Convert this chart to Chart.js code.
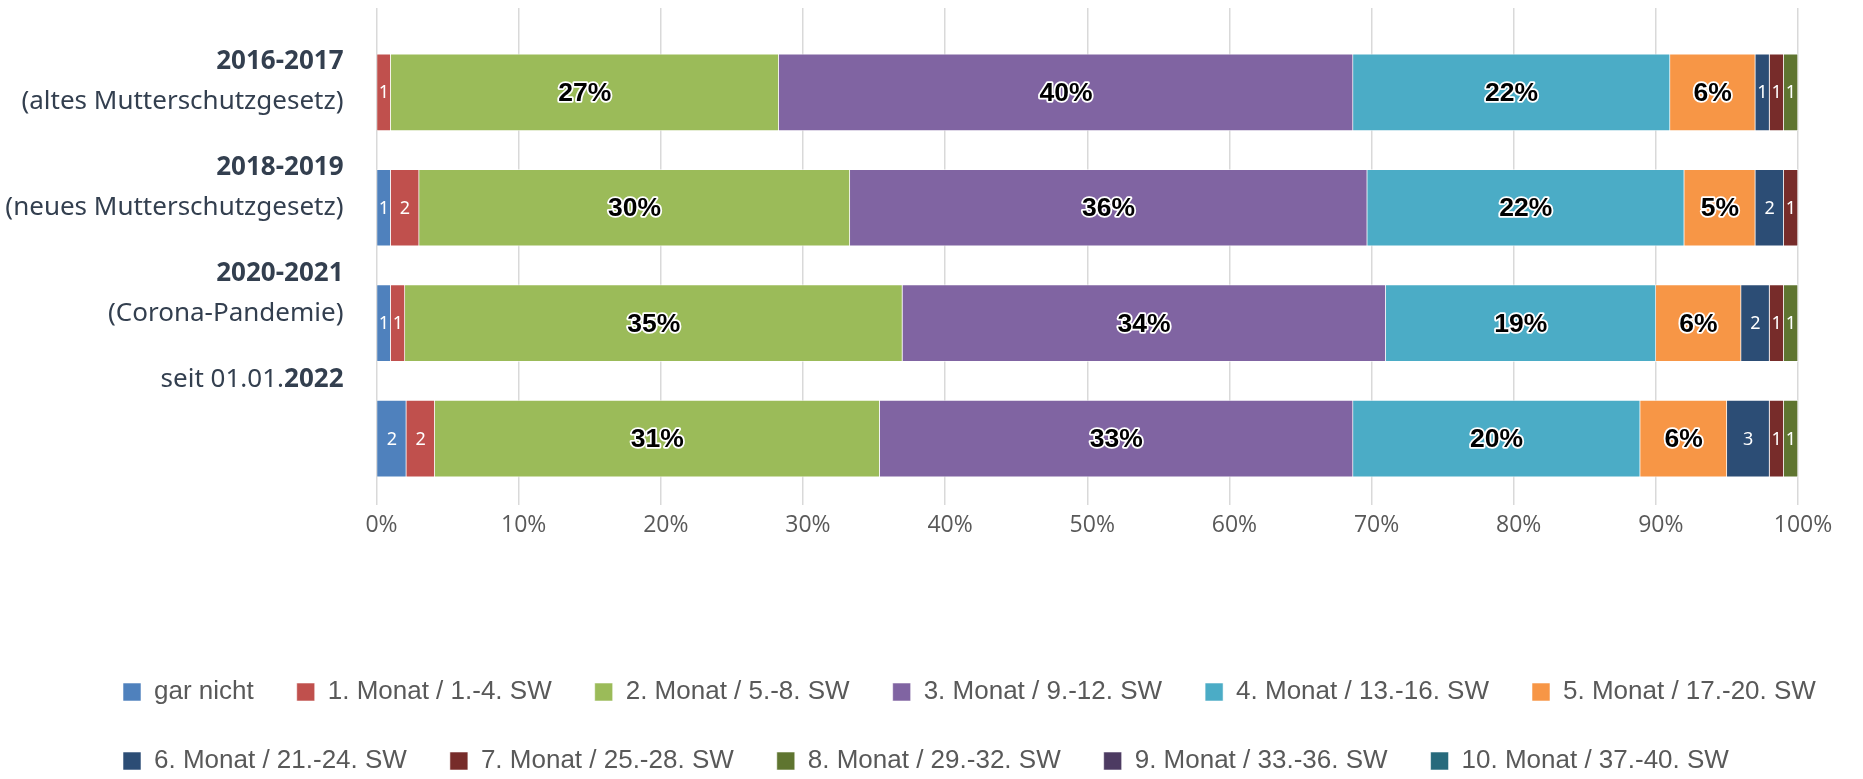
<!DOCTYPE html>
<html>
<head>
<meta charset="utf-8">
<script src="https://cdn.jsdelivr.net/npm/chart.js@4.4.1/dist/chart.umd.min.js"></script>
<style>
html,body{margin:0;padding:0;background:#fff;overflow:hidden}
#wrap{width:1863px;height:779px;position:relative}
</style>
</head>
<body>
<div id="wrap"><canvas id="c"></canvas></div>
<script>
// ---- data ----
const periods = ['2016-2017', '2018-2019', '2020-2021', '2022'];
const periodNotes = ['(altes Mutterschutzgesetz)', '(neues Mutterschutzgesetz)', '(Corona-Pandemie)', ''];
const periodPrefixes = ['', '', '', 'seit 01.01.'];

const seriesNames = [
  'gar nicht', '1. Monat / 1.-4. SW', '2. Monat / 5.-8. SW', '3. Monat / 9.-12. SW',
  '4. Monat / 13.-16. SW', '5. Monat / 17.-20. SW', '6. Monat / 21.-24. SW',
  '7. Monat / 25.-28. SW', '8. Monat / 29.-32. SW', '9. Monat / 33.-36. SW', '10. Monat / 37.-40. SW'
];
const seriesColors = ['#4f81bd', '#c0504d', '#9bbb59', '#8064a2', '#4bacc6', '#f79646',
  '#2c4d75', '#772c2a', '#5f7530', '#4d3b62', '#276a7c'];

const garNicht = [0, 1.0, 1.0, 2.1];
const monat1   = [1.0, 2.0, 1.0, 2.0];
const monat2   = [27.3, 30.3, 35.0, 31.3];
const monat3   = [40.4, 36.4, 34.0, 33.3];
const monat4   = [22.3, 22.3, 19.0, 20.2];
const monat5   = [6.0, 5.0, 6.0, 6.1];
const monat6   = [1.0, 2.0, 2.0, 3.0];
const monat7   = [1.0, 1.0, 1.0, 1.0];
const monat8   = [1.0, 0, 1.0, 1.0];
const monat9   = [0, 0, 0, 0];
const monat10  = [0, 0, 0, 0];
const seriesValues = [garNicht, monat1, monat2, monat3, monat4, monat5, monat6, monat7, monat8, monat9, monat10];

const xTickValues = [0, 10, 20, 30, 40, 50, 60, 70, 80, 90, 100];

// ---- plugins ----
const segLabels = {
  id: 'segLabels',
  afterDatasetsDraw(chart) {
    const ctx = chart.ctx;
    chart.data.datasets.forEach((ds, di) => {
      const meta = chart.getDatasetMeta(di);
      if (meta.hidden) return;
      meta.data.forEach((el, i) => {
        const v = ds.data[i].x;
        if (!v) return;
        const p = el.getCenterPoint();
        const n = Math.round(v);
        ctx.save();
        ctx.textAlign = 'center';
        ctx.textBaseline = 'middle';
        if (v < 4) {
          ctx.font = '18px "Noto Sans"';
          ctx.fillStyle = '#ffffff';
          ctx.fillText(String(n), p.x, p.y + 1);
        } else {
          const t = n + '%';
          ctx.font = 'bold 26.5px "Liberation Sans"';
          ctx.lineJoin = 'round';
          ctx.lineWidth = 3.5;
          ctx.strokeStyle = '#ffffff';
          ctx.strokeText(t, p.x, p.y + 1);
          ctx.fillStyle = '#000000';
          ctx.fillText(t, p.x, p.y + 1);
        }
        ctx.restore();
      });
    });
  }
};

const periodLabels = {
  id: 'periodLabels',
  afterDraw(chart) {
    const ctx = chart.ctx;
    const ys = chart.scales.y;
    const right = chart.chartArea.left - 33;
    ctx.save();
    ctx.textAlign = 'right';
    ctx.textBaseline = 'middle';
    ctx.fillStyle = '#333f4f';
    periods.forEach((p, i) => {
      const c = ys.getPixelForValue(i * 0.917 - 0.093);
      const y1 = c - 20, y2 = c + 20;
      ctx.font = 'bold 26px "Noto Sans"';
      ctx.fillText(p, right, y1);
      if (periodPrefixes[i]) {
        const w = ctx.measureText(p).width;
        ctx.font = '26px "Noto Sans"';
        ctx.fillText(periodPrefixes[i], right - w, y1);
      }
      if (periodNotes[i]) {
        ctx.font = '26px "Noto Sans"';
        ctx.fillText(periodNotes[i], right, y2);
      }
    });
    ctx.restore();
  }
};

// ---- chart ----
const datasets = seriesNames.map((name, si) => ({
  label: name,
  data: seriesValues[si].map((v, i) => ({x: v, y: i})),
  backgroundColor: seriesColors[si],
  borderColor: 'rgba(255,255,255,0.55)',
  borderWidth: 1,
  barThickness: 77
}));

new Chart(document.getElementById('c'), {
  type: 'bar',
  data: { datasets },
  options: {
    indexAxis: 'y',
    responsive: true,
    maintainAspectRatio: false,
    animation: false,
    layout: { padding: { top: 8, left: 80, right: 0, bottom: 0 } },
    scales: {
      x: {
        type: 'linear',
        stacked: true,
        min: 0,
        max: 100,
        bounds: 'data',
        offset: false,
        afterBuildTicks: (s) => { s.ticks = xTickValues.map(v => ({value: v})); },
        afterFit: (s) => { s.height = 137; s.paddingRight = 65; },
        grid: { color: '#d9d9d9', lineWidth: 1.5, tickLength: 6, drawTicks: true, offset: false },
        border: { display: false },
        ticks: {
          callback: (v) => v + '%',
          color: '#595959',
          font: { family: '"Open Sans"', size: 23 },
          padding: 7,
          labelOffset: 5,
          maxRotation: 0
        }
      },
      y: {
        type: 'linear',
        stacked: true,
        reverse: true,
        bounds: 'data',
        offset: false,
        min: -0.7305,
        max: 3.523,
        afterBuildTicks: (s) => { s.ticks = [0, 1, 2, 3].map(v => ({value: v})); },
        afterFit: (s) => { s.width = 296.5; },
        grid: { display: false, offset: false },
        border: { display: false },
        ticks: { display: false }
      }
    },
    plugins: {
      legend: {
        position: 'bottom',
        align: 'start',
        maxHeight: 143,
        labels: {
          boxWidth: 18,
          boxHeight: 18,
          padding: 43,
          color: '#595959',
          font: { family: '"Liberation Sans"', size: 26 }
        }
      },
      tooltip: { enabled: false }
    }
  },
  plugins: [segLabels, periodLabels]
});
</script>
</body>
</html>
